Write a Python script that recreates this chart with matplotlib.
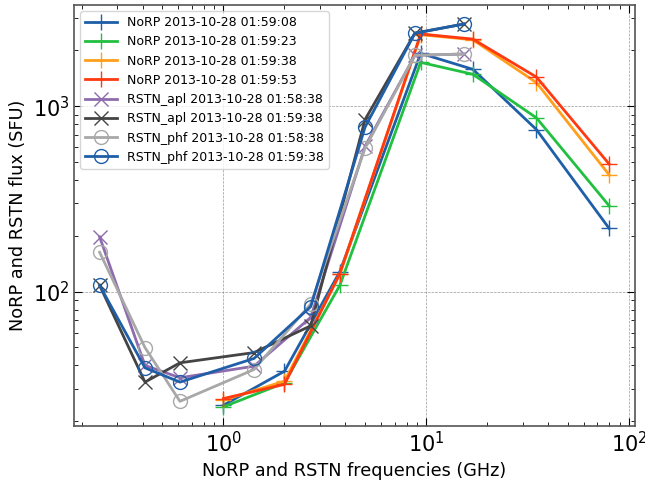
import numpy as np
import matplotlib
matplotlib.use('Agg')
from matplotlib import pyplot as plt

# NoRP frequencies (GHz) and fluxes (SFU)
norp_freq = [1.0, 2.0, 3.75, 9.4, 17.0, 35.0, 80.0]
norp_0908 = [24.4, 37.2, 128, 1926, 1580, 748, 219]
norp_0923 = [23.9, 32.2, 108, 1722, 1486, 865, 290]
norp_0938 = [26.0, 32.9, 124, 2430, 2280, 1340, 426]
norp_0953 = [26.5, 31.6, 125, 2450, 2300, 1436, 487]

# RSTN frequencies (GHz) and fluxes (SFU)
rstn_freq = [0.245, 0.41, 0.61, 1.415, 2.695, 4.995, 8.8, 15.4]
apl_5838 = [197, 40.0, 34.3, 39.6, 72.6, 607, 1880, 1911]
apl_5938 = [108, 32.5, 41.3, 46.9, 65.4, 847, 2476, 2775]
phf_5838 = [163, 49.9, 25.6, 38.0, 85.8, 594, 1880, 1911]
phf_5938 = [108, 38.8, 32.5, 43.6, 83.0, 771, 2476, 2775]

plt.rcParams['xtick.direction'] = 'in'
plt.rcParams['ytick.direction'] = 'in'
plt.rcParams['xtick.top'] = True
plt.rcParams['ytick.right'] = True

fig = plt.figure(figsize=(6.45, 4.83), dpi=100)
ax = fig.add_axes([0.115, 0.118, 0.869, 0.872])

lw = 2
ax.plot(norp_freq, norp_0908, color='#1f5fa8', marker='+', ms=12, lw=lw,
        label='NoRP 2013-10-28 01:59:08')
ax.plot(norp_freq, norp_0923, color='#22c040', marker='+', ms=12, lw=lw,
        label='NoRP 2013-10-28 01:59:23')
ax.plot(norp_freq, norp_0938, color='#ff9f1c', marker='+', ms=12, lw=lw,
        label='NoRP 2013-10-28 01:59:38')
ax.plot(norp_freq, norp_0953, color='#ff3a10', marker='+', ms=12, lw=lw,
        label='NoRP 2013-10-28 01:59:53')
ax.plot(rstn_freq, apl_5838, color='#8e6bad', marker='x', ms=10, lw=lw,
        label='RSTN_apl 2013-10-28 01:58:38')
ax.plot(rstn_freq, apl_5938, color='#444444', marker='x', ms=10, lw=lw,
        label='RSTN_apl 2013-10-28 01:59:38')
ax.plot(rstn_freq, phf_5838, color='#a8a8a8', marker='o', ms=10, lw=lw,
        fillstyle='none', label='RSTN_phf 2013-10-28 01:58:38')
ax.plot(rstn_freq, phf_5938, color='#1f5fa8', marker='o', ms=10, lw=lw,
        fillstyle='none', label='RSTN_phf 2013-10-28 01:59:38')

ax.set_xscale('log')
ax.set_yscale('log')
ax.grid(True, which='major', ls='--', color='gray', lw=0.5, alpha=0.8)
ax.tick_params(which='major', labelsize=15, length=6)
ax.tick_params(which='minor', length=3)
for s in ax.spines.values():
    s.set_color('#555555')
    s.set_linewidth(1.2)

ax.set_xlabel('NoRP and RSTN frequencies (GHz)', fontsize=12.7)
ax.set_ylabel('NoRP and RSTN flux (SFU)', fontsize=12.7)
ax.legend(loc='upper left', fontsize=9, handlelength=2.5)

fig.savefig('out.png', dpi=100)
